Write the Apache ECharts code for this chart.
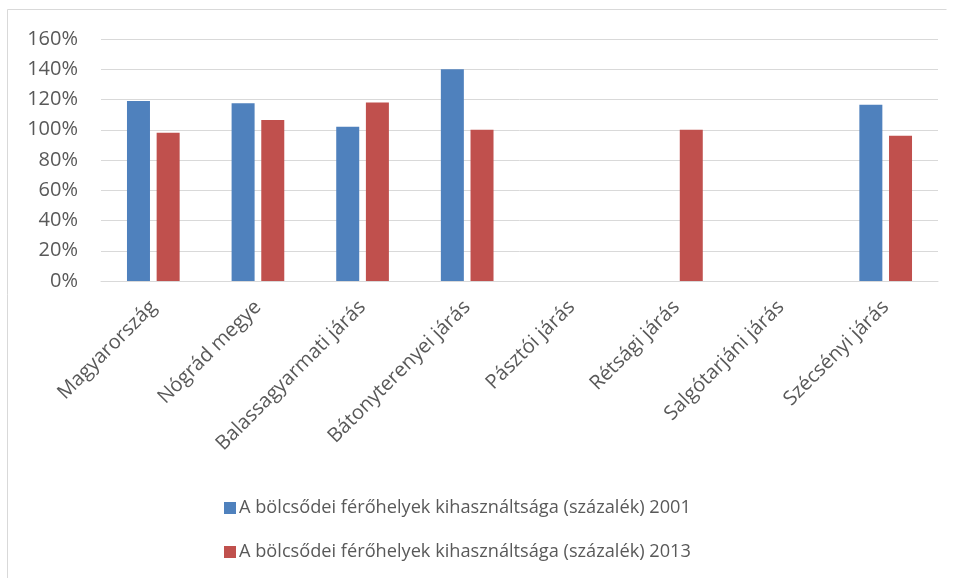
<!DOCTYPE html>
<html>
<head>
<meta charset="utf-8">
<script src="https://cdn.jsdelivr.net/npm/echarts@6/dist/echarts.min.js"></script>
<style>
html,body{margin:0;padding:0;background:#fff;}
#chart{width:954px;height:578px;}
</style>
</head>
<body>
<div id="chart"></div>
<script>
var categories = ["Magyarország", "Nógrád megye", "Balassagyarmati járás", "Bátonyterenyei járás", "Pásztói járás", "Rétsági járás", "Salgótarjáni járás", "Szécsényi járás"];
var series2001 = [119, 117.5, 102, 140, null, null, null, 116.5];
var series2013 = [98, 106.5, 118, 100, null, 100, null, 96];
var seriesNames = ["A bölcsődei férőhelyek kihasználtsága (százalék) 2001", "A bölcsődei férőhelyek kihasználtsága (százalék) 2013"];

var FONT = "Open Sans";
var TXT = "#595959";
var chart = echarts.init(document.getElementById('chart'), null, {renderer: 'canvas'});
chart.setOption({
  animation: false,
  backgroundColor: '#fff',
  textStyle: {fontFamily: FONT},
  graphic: [{
    type: 'polyline',
    shape: {points: [[7.5, 600], [7.5, 9.5], [946.5, 9.5]]},
    style: {stroke: '#d9d9d9', fill: null, lineWidth: 1},
    silent: true
  }],
  grid: {left: 101, right: 16, top: 39, bottom: 297, containLabel: false},
  legend: {
    orient: 'vertical',
    left: 219,
    top: 494,
    itemWidth: 12,
    itemHeight: 12,
    itemGap: 26,
    icon: 'rect',
    textStyle: {fontFamily: FONT, fontSize: 18.2, color: TXT, padding: [0, 0, 0, -2]},
    data: seriesNames
  },
  xAxis: {
    type: 'category',
    data: categories,
    axisLine: {show: true, lineStyle: {color: '#d9d9d9', width: 1}},
    axisTick: {show: false},
    axisLabel: {rotate: 45, interval: 0, margin: 23, fontFamily: FONT, fontSize: 20, color: TXT}
  },
  yAxis: {
    type: 'value',
    min: 0, max: 160, interval: 20,
    axisLine: {show: false},
    axisTick: {show: false},
    splitLine: {lineStyle: {color: '#d9d9d9', width: 1}},
    axisLabel: {formatter: '{value}%', margin: 23, fontFamily: FONT, fontSize: 20, color: TXT}
  },
  series: [
    {name: seriesNames[0], type: 'bar', data: series2001, barWidth: 23, barGap: '29%', itemStyle: {color: '#4F81BD'}},
    {name: seriesNames[1], type: 'bar', data: series2013, barWidth: 23, barGap: '29%', itemStyle: {color: '#C0504D'}}
  ]
});
</script>
</body>
</html>
